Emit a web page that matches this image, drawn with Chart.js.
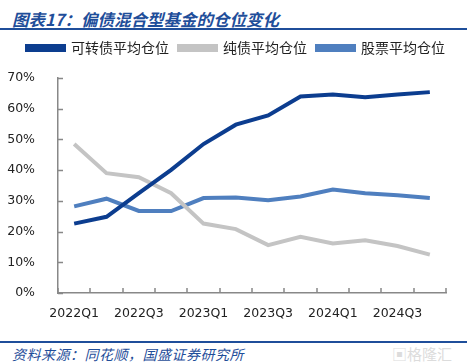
<!DOCTYPE html>
<html>
<head>
<meta charset="utf-8">
<script src="https://cdn.jsdelivr.net/npm/chart.js@4.4.1/dist/chart.umd.min.js"></script>
<style>
  html, body { margin: 0; padding: 0; background: #fff; }
  #wrap { position: relative; width: 467px; height: 364px; overflow: hidden; }
  #title { position: absolute; left: 12px; top: 7px; font: italic bold 16.5px "Noto Sans CJK SC", sans-serif; color: #1f4e9a; white-space: nowrap; }
  .rule { position: absolute; left: 0; width: 467px; height: 2px; background: #1f4e9a; }
  #source { position: absolute; left: 12px; top: 344px; font: italic 14px "Noto Sans CJK SC", sans-serif; color: #1f4e9a; white-space: nowrap; letter-spacing: 0.5px; }
  #mark { position: absolute; left: 392px; top: 343px; font: 15px "Noto Sans CJK SC", sans-serif; color: #dcdcdc; white-space: nowrap; }
  #cv { position: absolute; left: 0; top: 31px; }
</style>
</head>
<body>
<div id="wrap">
  <div id="title">图表17：偏债混合型基金的仓位变化</div>
  <div class="rule" style="top:28px"></div>
  <canvas id="cv" width="467" height="295"></canvas>
  <div class="rule" style="top:341px"></div>
  <div id="source">资料来源：同花顺，国盛证券研究所</div>
  <div id="mark">▣格隆汇</div>
</div>
<script>
var quarters = ['2022Q1', '2022Q2', '2022Q3', '2022Q4', '2023Q1', '2023Q2', '2023Q3', '2023Q4', '2024Q1', '2024Q2', '2024Q3', '2024Q4'];
var convertible = [22.6, 24.8, 32.5, 40.1, 48.5, 54.8, 57.8, 64.0, 64.6, 63.7, 64.6, 65.4];
var pureBond = [48.5, 39.0, 37.7, 32.5, 22.6, 20.8, 15.6, 18.3, 16.1, 17.2, 15.3, 12.5];
var stock = [28.2, 30.7, 26.7, 26.7, 30.9, 31.1, 30.2, 31.4, 33.7, 32.5, 31.8, 30.9];
var yTicks = [0, 10, 20, 30, 40, 50, 60, 70];

var axisColor = '#888888';

// short tick marks pointing into the plot, like the original
var innerTicks = {
  id: 'innerTicks',
  afterDraw: function (chart) {
    var ctx = chart.ctx, x = chart.scales.x, y = chart.scales.y;
    ctx.save();
    ctx.strokeStyle = axisColor;
    ctx.lineWidth = 1.5;
    ctx.beginPath();
    yTicks.forEach(function (v) {
      var py = Math.round(y.getPixelForValue(v)) + 0.5;
      ctx.moveTo(x.left, py);
      ctx.lineTo(x.left + 5, py);
    });
    for (var i = 0; i <= quarters.length; i++) {
      var px = Math.round(x.getPixelForValue(i - 0.5));
      ctx.moveTo(px, y.bottom);
      ctx.lineTo(px, y.bottom - 5);
    }
    ctx.stroke();
    ctx.restore();
  }
};

// more room under the legend, and nudge it right to sit where the original does
var legendSpace = {
  id: 'legendSpace',
  beforeInit: function (chart) {
    var fit = chart.legend.fit;
    chart.legend.fit = function () {
      fit.call(this);
      this.height += 13;
    };
  },
  afterLayout: function (chart) {
    chart.legend.left += 13;
    chart.legend.right += 13;
  }
};

function series(label, data, color) {
  return {
    label: label,
    data: data,
    borderColor: color,
    backgroundColor: color,
    borderWidth: 4,
    pointRadius: 0,
    tension: 0,
    fill: false
  };
}

new Chart(document.getElementById('cv'), {
  type: 'line',
  data: {
    labels: quarters,
    datasets: [
      series('可转债平均仓位', convertible, '#0c3d8f'),
      series('纯债平均仓位', pureBond, '#c4c4c4'),
      series('股票平均仓位', stock, '#4f7fbf')
    ]
  },
  options: {
    responsive: false,
    animation: false,
    layout: { padding: { left: 0, right: 21, top: 0, bottom: 0 } },
    plugins: {
      legend: {
        labels: {
          boxWidth: 37,
          boxHeight: 4,
          padding: 10,
          color: '#222',
          font: { family: '"Noto Sans CJK SC"', size: 14 }
        }
      },
      tooltip: { enabled: false }
    },
    scales: {
      x: {
        offset: true,
        grid: { display: false },
        border: { color: axisColor, width: 1.5 },
        ticks: {
          autoSkip: false,
          maxRotation: 0,
          color: '#222',
          padding: 5,
          font: { family: '"DejaVu Sans"', size: 12.5 },
          callback: function (v, i) { return i % 2 === 0 ? quarters[i] : ''; }
        }
      },
      y: {
        min: 0,
        max: 70,
        grid: { display: false },
        border: { color: axisColor, width: 1.5 },
        afterFit: function (s) { s.width = 58; },
        afterBuildTicks: function (s) { s.ticks = yTicks.map(function (v) { return { value: v }; }); },
        ticks: {
          color: '#222',
          padding: 15,
          font: { family: '"DejaVu Sans"', size: 12.5 },
          callback: function (v) { return v + '%'; }
        }
      }
    }
  },
  plugins: [innerTicks, legendSpace]
});
</script>
</body>
</html>
